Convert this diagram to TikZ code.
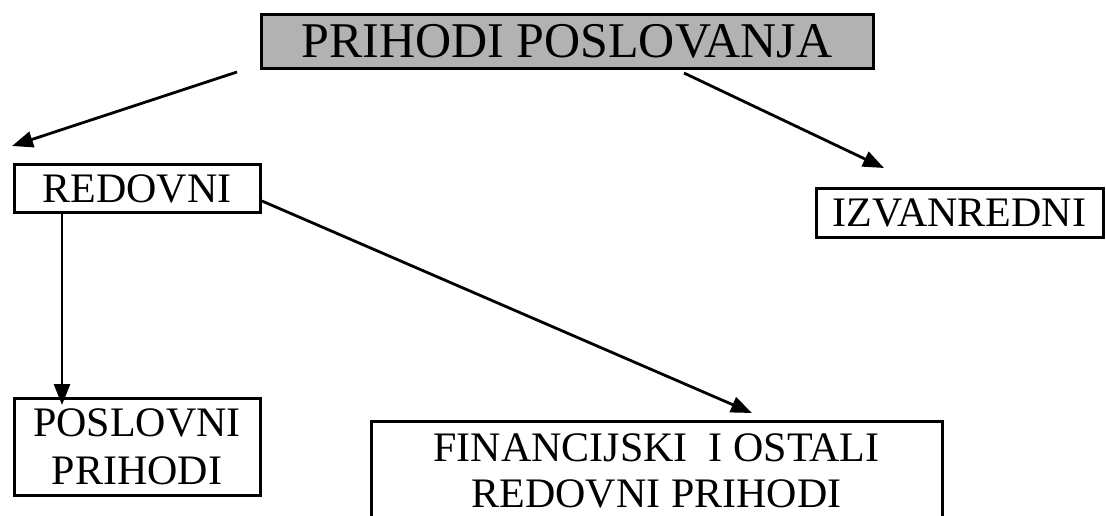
\documentclass[tikz,border=0pt]{standalone}
\usepackage{fontspec}
\setmainfont{Liberation Serif}
\usetikzlibrary{arrows.meta}
\begin{document}
\begin{tikzpicture}[x=1pt,y=-1pt,
	box/.style={draw,line width=3pt,inner sep=0pt,align=center,font=\fontsize{42}{48}\selectfont},
	arr/.style={line width=2.8pt,-{Triangle[length=21pt,width=16pt]}}]
		\useasboundingbox (0,0) rectangle (1106,515);
		\clip (0,0) rectangle (1106,515);
		\node[box,fill=black!30,minimum width=612pt,minimum height=54pt,font=\fontsize{50}{56}\selectfont] (prihodi) at (567,41) {PRIHODI POSLOVANJA};
		\node[box,minimum width=246pt,minimum height=48pt] (redovni) at (137,188.5) {REDOVNI};
		\node[box,minimum width=287pt,minimum height=49pt] (izvanredni) at (959.5,213) {IZVANREDNI};
		\node[box,minimum width=246pt,minimum height=97pt] (poslovni) at (137,446.5) {POSLOVNI\\PRIHODI};
		\node[box,minimum width=571pt,minimum height=100pt,font=\fontsize{42}{46}\selectfont] (financijski) at (656.5,471) {FINANCIJSKI~~I OSTALI\\REDOVNI PRIHODI};
		\coordinate (r0) at (237,72);
		\coordinate (r1) at (12,146);
		\coordinate (i0) at (684,73);
		\coordinate (i1) at (884,168);
		\coordinate (p0) at (62,213);
		\coordinate (p1) at (62,405);
		\coordinate (f0) at (262,201);
		\coordinate (f1) at (752,413);
		\draw[arr] (r0) -- (r1);
		\draw[arr] (i0) -- (i1);
		\draw[arr] (p0) -- (p1);
		\draw[arr] (f0) -- (f1);
\end{tikzpicture}
\end{document}
